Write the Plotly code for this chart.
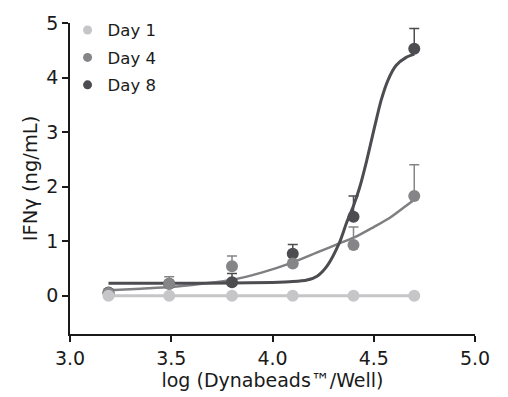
import plotly.graph_objects as go

# Data (log Dynabeads/Well)
x_log = [3.19, 3.49, 3.80, 4.10, 4.40, 4.70]
day1 = [0.0, 0.0, 0.0, 0.0, 0.0, 0.0]
day4 = [0.05, 0.22, 0.54, 0.59, 0.93, 1.83]
day4_err = [0.0, 0.13, 0.19, 0.06, 0.33, 0.57]
day8 = [0.06, 0.22, 0.25, 0.77, 1.45, 4.53]
day8_err = [0.0, 0.04, 0.16, 0.17, 0.38, 0.37]

# Fitted curves
fit4_x = [3.19, 3.35, 3.50, 3.65, 3.81, 3.95, 4.09, 4.23, 4.33, 4.42, 4.50, 4.58, 4.66, 4.71]
fit4_y = [0.10, 0.13, 0.16, 0.22, 0.30, 0.43, 0.60, 0.81, 0.96, 1.10, 1.26, 1.43, 1.65, 1.79]
fit8_x = [3.19, 3.50, 3.80, 4.00, 4.10, 4.17, 4.22, 4.27, 4.33, 4.365, 4.40, 4.43,
          4.464, 4.505, 4.537, 4.57, 4.61, 4.66, 4.70]
fit8_y = [0.23, 0.23, 0.235, 0.245, 0.26, 0.29, 0.36, 0.55, 0.97, 1.33, 1.65, 1.98,
          2.46, 3.11, 3.59, 3.95, 4.22, 4.37, 4.43]

c1 = "#c6c6c9"
c4 = "#858588"
c8 = "#4c4c51"
FONT = "DejaVu Sans"

fig = go.Figure()

fig.add_trace(go.Scatter(x=x_log, y=day1, mode="lines", line=dict(color=c1, width=3),
                         showlegend=False, hoverinfo="skip"))
fig.add_trace(go.Scatter(x=fit4_x, y=fit4_y, mode="lines", line=dict(color="#7f7f82", width=2.5, shape="spline", smoothing=0.8),
                         showlegend=False, hoverinfo="skip"))
fig.add_trace(go.Scatter(x=fit8_x, y=fit8_y, mode="lines", line=dict(color=c8, width=3, shape="spline", smoothing=0.7),
                         showlegend=False, hoverinfo="skip"))

fig.add_trace(go.Scatter(x=x_log, y=day8, mode="markers", name="Day 8", showlegend=False,
                         marker=dict(color=c8, size=12),
                         error_y=dict(type="data", symmetric=False, array=day8_err, arrayminus=[0]*6,
                                      color=c8, thickness=1.5, width=5)))
fig.add_trace(go.Scatter(x=x_log, y=day4, mode="markers", name="Day 4", showlegend=False,
                         marker=dict(color=c4, size=12),
                         error_y=dict(type="data", symmetric=False, array=day4_err, arrayminus=[0]*6,
                                      color=c4, thickness=1.5, width=5)))
fig.add_trace(go.Scatter(x=x_log, y=day1, mode="markers", name="Day 1", showlegend=False,
                         marker=dict(color=c1, size=12)))

# legend-only entries (smaller symbols, as in the reference)
for name, col in [("Day 1", c1), ("Day 4", c4), ("Day 8", c8)]:
    fig.add_trace(go.Scatter(x=[None], y=[None], mode="markers", name=name, legendgroup=name,
                             marker=dict(color=col, size=9)))

fig.update_layout(
    width=508, height=397,
    margin=dict(l=70, r=33, t=18, b=61),
    paper_bgcolor="white", plot_bgcolor="white",
    font=dict(family=FONT, size=17, color="#1a1a1a"),
    legend=dict(x=-0.006, y=1.033, xanchor="left", yanchor="top", tracegroupgap=3,
                font=dict(size=16.5), bgcolor="rgba(0,0,0,0)", itemwidth=30),
    showlegend=True,
)
fig.update_xaxes(range=[3.0, 5.0], tickvals=[3.0, 3.5, 4.0, 4.5, 5.0], ticktext=["3.0", "3.5", "4.0", "4.5", "5.0"],
                 showline=True, linecolor="#1a1a1a", linewidth=1.5, ticks="outside", ticklen=6, tickwidth=1.5,
                 tickcolor="#1a1a1a", showgrid=False, zeroline=False, tickfont=dict(size=19),
                 title=dict(text="log (Dynabeads™/Well)", standoff=3, font=dict(size=19)))
fig.update_yaxes(range=[-0.7, 5.0], tickvals=[0, 1, 2, 3, 4, 5],
                 showline=True, linecolor="#1a1a1a", linewidth=1.5, ticks="outside", ticklen=6, tickwidth=1.5,
                 tickcolor="#1a1a1a", showgrid=False, zeroline=False, tickfont=dict(size=19),
                 title=dict(text="IFNγ (ng/mL)", standoff=4, font=dict(size=19.5)))

fig.write_html("out.html")
